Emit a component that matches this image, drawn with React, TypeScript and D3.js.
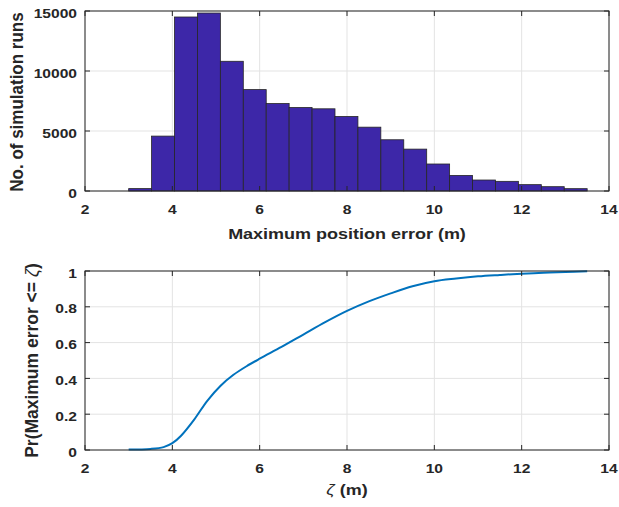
import React from "react";
import * as d3 from "d3";

// histogram: 20 bins of width 0.525 from 3.0 to 13.5
const binStart = 3.0;
const binWidth = 0.525;
const binCounts = [
  200, 4575, 14500, 14830, 10810, 8450, 7290, 6960, 6850, 6210,
  5320, 4270, 3490, 2250, 1300, 915, 805, 530, 360, 195,
];

const cdfX = [3.0, 3.5, 3.8, 4.0, 4.2, 4.5, 4.8, 5.1, 5.4, 5.7, 6.0, 6.5, 7.0, 7.5, 8.0, 8.5, 9.0, 9.5, 10.0, 10.5, 11.0, 11.5, 12.0, 12.5, 13.0, 13.5];
const cdfY = [0.003, 0.006, 0.016, 0.038, 0.08, 0.17, 0.275, 0.358, 0.42, 0.468, 0.51, 0.576, 0.645, 0.714, 0.777, 0.83, 0.875, 0.915, 0.943, 0.958, 0.97, 0.978, 0.985, 0.99, 0.995, 0.998];

const xTicks = [2, 4, 6, 8, 10, 12, 14];
const histTicks = [0, 5000, 10000, 15000];
const cdfTicks = [0, 0.2, 0.4, 0.6, 0.8, 1];

const W = 619;
const H = 507;
const left = 85;
const right = 609;
const axisCol = "#262626";
const gridCol = "#e3e3e3";
const font = "'Liberation Sans', Arial, Helvetica, sans-serif";
const sx = 1.2; // text in the reference is stretched horizontally

function Txt({ x, y, anchor = "middle", size = 13, rotate = 0, stretch = sx, children }: any) {
  return (
    <text
      transform={`translate(${x},${y}) scale(${stretch},1) rotate(${rotate})`}
      textAnchor={anchor}
      fontFamily={font}
      fontWeight="bold"
      fontSize={size}
      fill={axisCol}
    >
      {children}
    </text>
  );
}

function Grid({ x, y, yTicks, top, bottom }: any) {
  return (
    <g>
      {xTicks.map((t) => (
        <line key={"gx" + t} x1={x(t)} x2={x(t)} y1={top} y2={bottom} stroke={gridCol} />
      ))}
      {yTicks.map((t: number) => (
        <line key={"gy" + t} x1={left} x2={right} y1={y(t)} y2={y(t)} stroke={gridCol} />
      ))}
    </g>
  );
}

function Axes({ x, y, yTicks, fmt, top, bottom }: any) {
  const tl = 5;
  return (
    <g>
      <rect x={left} y={top} width={right - left} height={bottom - top} fill="none" stroke={axisCol} strokeWidth={1} />
      {xTicks.map((t) => (
        <g key={"tx" + t}>
          <line x1={x(t)} x2={x(t)} y1={bottom} y2={bottom - tl} stroke={axisCol} />
          <line x1={x(t)} x2={x(t)} y1={top} y2={top + tl} stroke={axisCol} />
          <Txt x={x(t)} y={bottom + 23}>{t}</Txt>
        </g>
      ))}
      {yTicks.map((t: number) => (
        <g key={"ty" + t}>
          <line x1={left} x2={left + tl} y1={y(t)} y2={y(t)} stroke={axisCol} />
          <line x1={right} x2={right - tl} y1={y(t)} y2={y(t)} stroke={axisCol} />
          <Txt x={77} y={y(t) + 6.5} anchor="end">{fmt(t)}</Txt>
        </g>
      ))}
    </g>
  );
}

export default function App() {
  const x = d3.scaleLinear().domain([2, 14]).range([left, right]);

  const hTop = 11;
  const hBot = 191;
  const yH = d3.scaleLinear().domain([0, 15000]).range([hBot, hTop]);

  const cTop = 271;
  const cBot = 450;
  const yC = d3.scaleLinear().domain([0, 1]).range([cBot, cTop]);

  const bins = binCounts.map((c, i) => ({ x0: binStart + i * binWidth, x1: binStart + (i + 1) * binWidth, c }));
  const cdf = cdfX.map((v, i) => [v, cdfY[i]] as [number, number]);
  const line = d3
    .line<[number, number]>()
    .x((d) => x(d[0]))
    .y((d) => yC(d[1]))
    .curve(d3.curveCatmullRom.alpha(0.5));

  return (
    <div style={{ position: "absolute", left: 0, top: 0 }}>
      <svg width={W} height={H} style={{ display: "block", background: "#fff" }}>
        {/* top panel: histogram */}
        <Grid x={x} y={yH} yTicks={histTicks} top={hTop} bottom={hBot} />
        {bins.map((b, i) => (
          <rect
            key={i}
            x={x(b.x0)}
            y={yH(b.c)}
            width={x(b.x1) - x(b.x0)}
            height={yH(0) - yH(b.c)}
            fill="#3d27a8"
            stroke="#262626"
            strokeWidth={0.8}
          />
        ))}
        <Axes x={x} y={yH} yTicks={histTicks} fmt={(t: number) => String(t)} top={hTop} bottom={hBot} />
        <Txt x={(left + right) / 2} y={239} size={15}>Maximum position error (m)</Txt>
        <Txt x={23} y={(hTop + hBot) / 2 + 1} size={17} rotate={-90} stretch={1.1}>No. of simulation runs</Txt>

        {/* bottom panel: CDF */}
        <Grid x={x} y={yC} yTicks={cdfTicks} top={cTop} bottom={cBot} />
        <path d={line(cdf) || ""} fill="none" stroke="#0072bd" strokeWidth={2} />
        <Axes x={x} y={yC} yTicks={cdfTicks} fmt={(t: number) => String(t)} top={cTop} bottom={cBot} />
        <Txt x={(left + right) / 2} y={495} size={15}>
          <tspan fontWeight="normal" fontStyle="italic">ζ</tspan> (m)
        </Txt>
        <Txt x={38} y={(cTop + cBot) / 2} size={17.5} rotate={-90} stretch={1.1}>
          Pr(Maximum error {"<="} <tspan fontWeight="normal" fontStyle="italic">ζ</tspan>)
        </Txt>
      </svg>
    </div>
  );
}
